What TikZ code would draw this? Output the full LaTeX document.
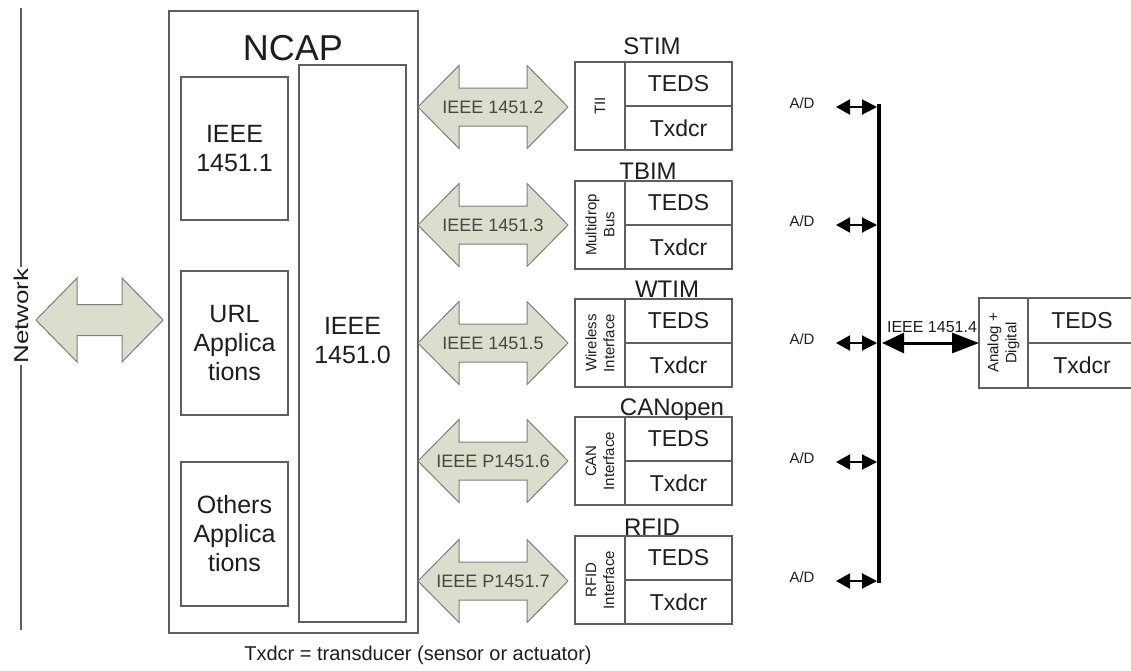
\documentclass[tikz,border=0pt]{standalone}
\usepackage{fontspec}
\setmainfont{Liberation Sans}
\usetikzlibrary{arrows.meta}
\definecolor{arrfill}{RGB}{218,223,205}
\definecolor{arrline}{RGB}{125,125,125}
\definecolor{boxline}{RGB}{95,95,95}
\definecolor{txt}{RGB}{30,30,30}
\definecolor{arrtxt}{RGB}{70,70,70}
% #1 name, #2 xl, #3 xr, #4 yc, #5 head half, #6 shaft half, #7 head length
\newcommand{\fatarr}[7]{%
  \draw[fatarrow] (#2,#4) -- ({#2+#7},{#4-#5}) -- ({#2+#7},{#4-#6}) -- ({#3-#7},{#4-#6})
    -- ({#3-#7},{#4-#5}) -- (#3,#4) -- ({#3-#7},{#4+#5}) -- ({#3-#7},{#4+#6})
    -- ({#2+#7},{#4+#6}) -- ({#2+#7},{#4+#5}) -- cycle;
  \coordinate (#1) at ({(#2+#3)/2},#4);}
% #1 name, #2 top y, #3 side text, #4 title, #5 title x, #6 title gap
\newcommand{\modrow}[6]{%
  \node[cell, minimum width=50, minimum height=88] (#1s) at (600,{#2+44}) {};
  \node[sidetext] (#1l) at (#1s) {#3};
  \node[cell, bigtext, minimum width=107, minimum height=44] (#1t) at (678.5,{#2+22}) {TEDS};
  \node[cell, bigtext, minimum width=107, minimum height=44] (#1x) at (678.5,{#2+66}) {Txdcr};
  \node[titletext, anchor=base] (#1n) at (#5,{#2-#6}) {#4};}
\begin{document}
\begin{tikzpicture}[x=1pt, y=-1pt,
  every node/.style={text=txt, inner sep=0pt, outer sep=0pt},
  cell/.style={draw=boxline, line width=1.3pt, rectangle},
  fatarrow/.style={draw=arrline, fill=arrfill, line width=1pt, line join=miter},
  bigtext/.style={font=\fontsize{23}{26}\selectfont},
  titletext/.style={font=\fontsize{24}{26}\selectfont},
  sidetext/.style={rotate=90, align=center, font=\fontsize{15}{18}\selectfont},
  arrlabel/.style={text=arrtxt, font=\fontsize{18}{20}\selectfont},
  boxtext/.style={align=center, font=\fontsize{25}{29}\selectfont},
  adlabel/.style={font=\fontsize{15}{17}\selectfont},
  smallarr/.style={line width=2pt, {Triangle[length=14pt,width=15pt]}-{Triangle[length=15pt,width=15pt]}},
  busarr/.style={line width=3pt, {Triangle[length=22pt,width=20pt]}-{Triangle[length=27pt,width=20pt]}}]
\useasboundingbox (0,0) rectangle (1131,670);

% Network line
\node[rotate=90, inner sep=1.5pt, font=\fontsize{20}{22}\selectfont] (net) at (21,316) {\scalebox{1.3}[1]{Network}};
\coordinate (netTop) at (21,8);
\coordinate (netBot) at (21,630);
\draw[draw=boxline, line width=1.3pt] (netTop) -- (net.east);
\draw[draw=boxline, line width=1.3pt] (net.west) -- (netBot);

% Network fat arrow
\fatarr{netarr}{36}{163}{320}{42}{15.5}{41}

% NCAP
\node[cell, minimum width=249, minimum height=622] (ncap) at (293.5,322) {};
\node[font=\fontsize{36}{38}\selectfont] (ncapt) at (293,48) {NCAP};
\node[cell, minimum width=107, minimum height=557] (core) at (352.5,343.5) {};
\node[boxtext] (coret) at (352.5,341) {IEEE\\1451.0};
\node[cell, boxtext, minimum width=107, minimum height=143] (b1) at (234.5,148.5) {IEEE\\1451.1};
\node[cell, boxtext, minimum width=107, minimum height=144] (b2) at (234.5,343) {URL\\Applica\\tions};
\node[cell, boxtext, minimum width=107, minimum height=144] (b3) at (234.5,534) {Others\\Applica\\tions};

% Interface fat arrows
\fatarr{fa1}{418}{568}{107}{41.5}{19}{41}
\fatarr{fa2}{418}{568}{225}{41.5}{19}{41}
\fatarr{fa3}{418}{568}{343}{41.5}{19}{41}
\fatarr{fa4}{418}{568}{461}{41.5}{19}{41}
\fatarr{fa5}{418}{568}{581}{41.5}{19}{41}
\node[arrlabel] (fl1) at (fa1) {IEEE 1451.2};
\node[arrlabel] (fl2) at (fa2) {IEEE 1451.3};
\node[arrlabel] (fl3) at (fa3) {IEEE 1451.5};
\node[arrlabel] (fl4) at (fa4) {IEEE P1451.6};
\node[arrlabel] (fl5) at (fa5) {IEEE P1451.7};

% Modules
\modrow{m1}{62}{TII}{STIM}{652}{8}
\modrow{m2}{181}{Multidrop\\Bus}{TBIM}{648}{2}
\modrow{m3}{299}{Wireless\\Interface}{WTIM}{667}{2}
\modrow{m4}{417}{CAN\\Interface}{CANopen}{672}{2}
\modrow{m5}{536}{RFID\\Interface}{RFID}{652}{1}

% IEEE 1451.4 bus
\coordinate (busTop) at (879,104);
\coordinate (busBot) at (879,583);
\draw[line width=4.5pt] (busTop) -- (busBot);
\foreach \i/\y in {1/107,2/225,3/343,4/462,5/581}{
  \node[adlabel] (ad\i) at (802,{\y-4}) {A/D};
  \coordinate (as\i) at (836,\y);
  \coordinate (ae\i) at (877,\y);
  \draw[smallarr] (as\i) -- (ae\i);
}
\node[cell, minimum width=49, minimum height=90] (rs) at (1003.5,343) {};
\node[sidetext] (rsl) at (rs) {Analog +\\Digital};
\node[cell, bigtext, minimum width=108, minimum height=45] (rt) at (1082,320.5) {TEDS};
\node[cell, bigtext, minimum width=108, minimum height=45] (rx) at (1082,365.5) {Txdcr};
\coordinate (busMid) at (882,343);
\draw[busarr] (busMid) -- (rs.west);
\node[font=\fontsize{16}{18}\selectfont] (bl) at (932,327) {IEEE 1451.4};

% Caption
\node[font=\fontsize{20}{22}\selectfont] (cap) at (418,655) {Txdcr = transducer (sensor or actuator)};
\end{tikzpicture}
\end{document}
